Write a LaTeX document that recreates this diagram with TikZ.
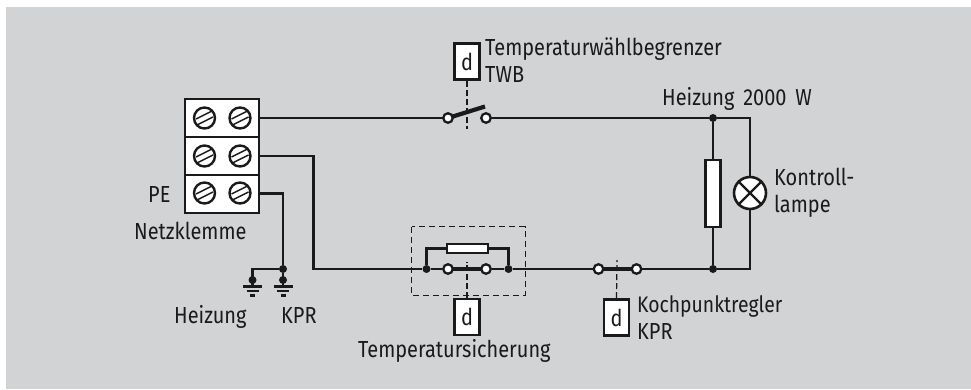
\documentclass[tikz,border=0pt]{standalone}
\usepackage{fontspec}
\setmainfont[FakeStretch=0.86]{Fira Sans}
\definecolor{panel}{HTML}{D2D3D5}
\definecolor{ink}{HTML}{1A1A1A}
\tikzset{
 x=1pt,y=-1pt,
 wire/.style={draw=ink,line width=2.4pt,line join=miter},
 hwire/.style={draw=ink,line width=4.2pt},
 dashline/.style={draw=ink,line width=1.2pt,dash pattern=on 6pt off 3pt},
 boxdash/.style={draw=ink,line width=1.3pt,dash pattern=on 6pt off 4pt},
 dotj/.style={circle,fill=ink,draw=none,inner sep=0pt,minimum size=8pt},
 cont/.style={circle,fill=white,draw=ink,line width=2.3pt,inner sep=0pt,minimum size=9.5pt},
 dbox/.style={draw=ink,fill=white,line width=2.6pt,minimum width=25pt,minimum height=36pt,inner sep=0pt,text=ink,font=\fontsize{23.2}{23.2}\selectfont},
 res/.style={draw=ink,fill=white,line width=2.6pt,inner sep=0pt},
 lab/.style={inner sep=0pt,text=ink,font=\fontsize{23.2}{27}\selectfont,align=left,anchor=base west},
 screw/.style={circle,fill=white,draw=ink,line width=2.4pt,inner sep=0pt,minimum size=21pt},
 cell/.style={draw=ink,fill=white,line width=2.6pt,minimum width=74pt,minimum height=38pt,inner sep=0pt},
 gnd/.style={draw=ink,line width=2.2pt}
}
\newcommand{\screwat}[2]{%
 \node[screw] (#1) at (#2) {};
 \draw[ink,line width=1.5pt] ([shift={(-8.5,1)}]#1.center) -- ([shift={(7.5,-7)}]#1.center);
 \draw[ink,line width=1.5pt] ([shift={(-7.5,7)}]#1.center) -- ([shift={(8.5,-1)}]#1.center);
}
\newcommand{\gndat}[1]{%
 \draw[gnd] ([shift={(-9.5,0)}]#1) -- ([shift={(9.5,0)}]#1);
 \draw[gnd] ([shift={(-6,4.5)}]#1) -- ([shift={(6,4.5)}]#1);
 \draw[gnd] ([shift={(-2.5,9)}]#1) -- ([shift={(2.5,9)}]#1);
}
\begin{document}
\begin{tikzpicture}
\useasboundingbox (0,0) rectangle (971,389);
\fill[white] (0,0) rectangle (971,389);
\fill[panel] (6,7) rectangle (971,389);

% terminal block
\node[cell] (c1) at (222,118) {};
\node[cell] (c2) at (222,156) {};
\node[cell] (c3) at (222,194) {};
\screwat{s1a}{204.5,118}\screwat{s1b}{240,118}
\screwat{s2a}{204.5,156}\screwat{s2b}{240,156}
\screwat{s3a}{204.5,193}\screwat{s3b}{240,193}

% corner coordinates
\coordinate (tr) at (750,118);
\coordinate (br) at (750,269);
\coordinate (lowl) at (313.5,269);
\coordinate (lowt) at (313.5,156);
\coordinate (petop) at (283,193.5);

% TWB switch
\node[dbox] (dtw) at (467,61.5) {d};
\coordinate (twend) at (467,129);
\coordinate (twtip) at (485,106.5);
\draw[dashline] (dtw.south) -- (twend);
\draw[wire] (c1.east) -- (448,118);
\draw[hwire] (448,118) -- (twtip);
\node[cont] (twa) at (448,118) {};
\node[cont] (twb) at (486,118) {};

% heater and lamp
\node[dotj] (jt) at (713,118) {};
\node[dotj] (jb) at (713,269) {};
\node[res,minimum width=15pt,minimum height=67pt] (heat) at (713,193.5) {};
\node[circle,fill=white,draw=ink,line width=2.6pt,inner sep=0pt,minimum size=32pt] (lamp) at (750,193) {};
\draw[ink,line width=2.4pt] (lamp.north west) -- (lamp.south east);
\draw[ink,line width=2.4pt] (lamp.north east) -- (lamp.south west);
\draw[wire] (twb) -- (jt);
\draw[wire] (jt) -- (heat.north);
\draw[wire] (heat.south) -- (jb);
\draw[wire] (jt) -- (tr) -- (lamp.north);
\draw[wire] (lamp.south) -- (br) -- (jb);

% lower branch
\node[dotj] (fa) at (426.5,269) {};
\node[dotj] (fb) at (508.5,269) {};
\node[res,minimum width=41pt,minimum height=9pt] (fres) at (467.5,248.5) {};
\node[dbox] (dfu) at (467,317) {d};
\coordinate (fend) at (467,261.5);
\node[cont,draw=none,fill=none] (fca) at (448,269) {};
\node[cont,draw=none,fill=none] (fcb) at (486,269) {};
\node[cont,draw=none,fill=none] (kca) at (598.5,269) {};
\node[cont,draw=none,fill=none] (kcb) at (636.5,269) {};
\draw[wire] (c2.east) -- (lowt) -- (lowl) -- (fa);
\draw[wire] (fa) -- (fca);
\draw[wire] (fcb) -- (fb);
\draw[wire] (fb) -- (kca);
\draw[wire] (kcb) -- (jb);
\draw[wire] (fa) |- (fres.west);
\draw[wire] (fb) |- (fres.east);
\draw[hwire] (fca.center) -- (fcb.center);
\node[cont] at (fca) {};
\node[cont] at (fcb) {};
\draw[dashline] (dfu.north) -- (fend);
\node[draw=none,minimum width=113pt,minimum height=68pt,inner sep=0pt] (fubox) at (468.5,261) {};
\draw[boxdash] (fubox.north west) rectangle (fubox.south east);

% KPR switch
\draw[hwire] (kca.center) -- (kcb.center);
\node[cont] at (kca) {};
\node[cont] at (kcb) {};
\node[dbox] (dkp) at (616.5,317.5) {d};
\coordinate (kend) at (617,260);
\draw[dashline] (dkp.north) -- (kend);

% earth
\node[dotj] (gj) at (283,269) {};
\node[dotj] (gr) at (283,280) {};
\node[dotj] (gl) at (252.5,280) {};
\coordinate (gbr) at (283,286.5);
\coordinate (gbl) at (252.5,286.5);
\draw[wire] (c3.east |- petop) -- (petop) -- (gj);
\draw[wire] (gj) -- (gbr);
\draw[wire] (gj) -- (gj -| gl) -- (gbl);
\gndat{gbr}
\gndat{gbl}

% labels
\node[lab] (l1) at (485,82) {Temperaturwählbegrenzer\\TWB};
\node[lab] (l2) at (662,105) {Heizung\hspace{3.5pt} 2000\hspace{3.5pt} W};
\node[lab] (l3) at (774,212.5) {Kontroll-\\lampe};
\node[lab] (l4) at (148,202) {PE};
\node[lab] (l5) at (134,239) {Netzklemme};
\node[lab] (l6) at (174,323) {Heizung};
\node[lab] (l7) at (281,323) {KPR};
\node[lab] (l8) at (358,357) {Temperatursicherung};
\node[lab] (l9) at (637,339) {\fontsize{22.5}{27}\selectfont Kochpunktregler\\KPR};
\end{tikzpicture}
\end{document}
